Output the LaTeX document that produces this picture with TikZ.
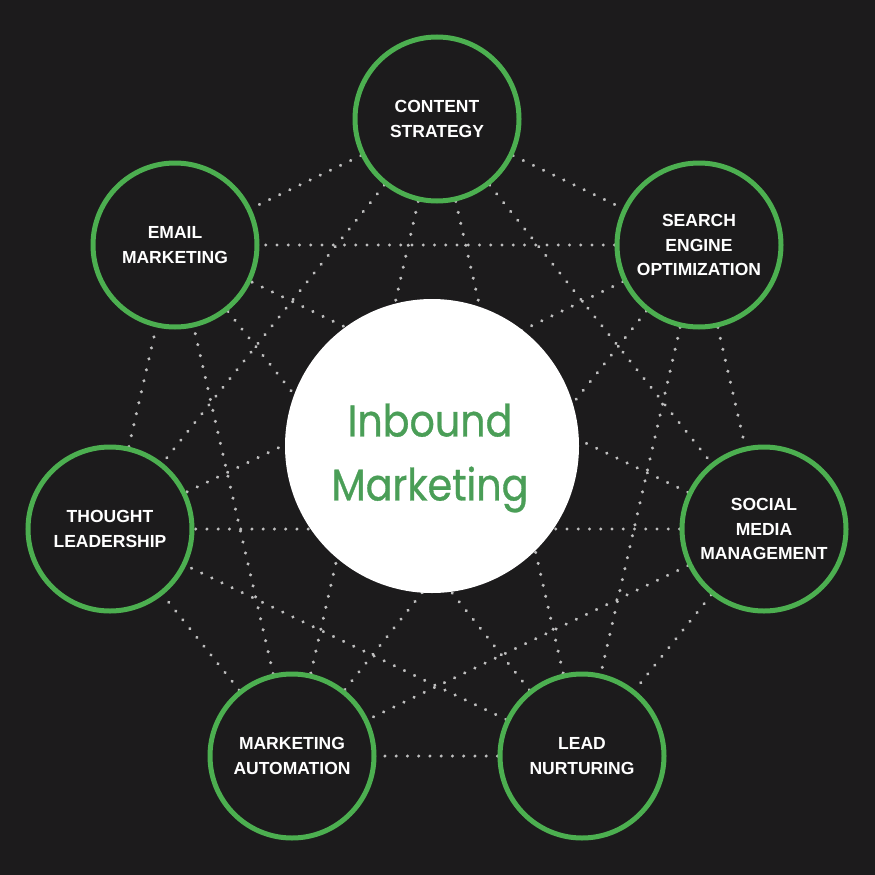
\documentclass[tikz,border=0pt]{standalone}
\usepackage{fontspec}
\setmainfont{Liberation Sans}
\newfontfamily\hubfont[FakeStretch=0.89, FakeBold=0.7]{Poppins}
\usepackage{tikz}
\definecolor{bgdark}{HTML}{1C1B1C}
\definecolor{ringgreen}{HTML}{4CAF50}
\definecolor{hubgreen}{HTML}{4A9E57}
\definecolor{dotgray}{HTML}{BEBEBE}
\pgfdeclarelayer{back}
\pgfdeclarelayer{links}
\pgfsetlayers{back,links,main}

\begin{document}
\begin{tikzpicture}[x=1pt, y=-1pt,
	topic/.style={circle, draw=ringgreen, line width=5pt, fill=bgdark, minimum size=164pt, inner sep=0pt, align=center, text=white, font=\bfseries\fontsize{17.5}{24.5}\selectfont},
	hub/.style={circle, fill=white, minimum size=294pt, inner sep=0pt},
	hubtext/.style={align=center, text=hubgreen, font=\hubfont\fontsize{44.5}{64}\selectfont},
	link/.style={draw=dotgray, line width=3.4pt, line cap=round, dash pattern=on 0.05pt off 11.2pt}]
	% Frame
	\useasboundingbox (0,0) rectangle (875,875);
	\begin{pgfonlayer}{back}
	\fill[bgdark] (0,0) rectangle (875,875);
	\end{pgfonlayer}
	% Topics
	\node[topic] at (437,119) (content) {CONTENT\\STRATEGY};
	\node[topic] at (699,245) (seo) {SEARCH\\ENGINE\\OPTIMIZATION};
	\node[topic] at (764,529) (social) {SOCIAL\\MEDIA\\MANAGEMENT};
	\node[topic] at (582,756) (lead) {LEAD\\NURTURING};
	\node[topic] at (292,756) (automation) {MARKETING\\AUTOMATION};
	\node[topic] at (110,529) (thought) {THOUGHT\\LEADERSHIP};
	\node[topic] at (175,245) (email) {EMAIL\\MARKETING};
	% Hub
	\node[hub] at (432,446) (inbound) {};
	\node[hubtext] at (430,458) (inboundtext) {Inbound\\Marketing};
	% Dotted links
	\begin{pgfonlayer}{links}
	\draw[link] (content) -- (seo) (content) -- (social) (content) -- (lead) (content) -- (automation) (content) -- (thought) (content) -- (email);
	\draw[link] (seo) -- (social) (seo) -- (lead) (seo) -- (automation) (seo) -- (thought) (seo) -- (email);
	\draw[link] (social) -- (lead) (social) -- (automation) (social) -- (thought) (social) -- (email);
	\draw[link] (lead) -- (automation) (lead) -- (thought) (lead) -- (email);
	\draw[link] (automation) -- (thought) (automation) -- (email);
	\draw[link] (thought) -- (email);
	\end{pgfonlayer}
\end{tikzpicture}
\end{document}
